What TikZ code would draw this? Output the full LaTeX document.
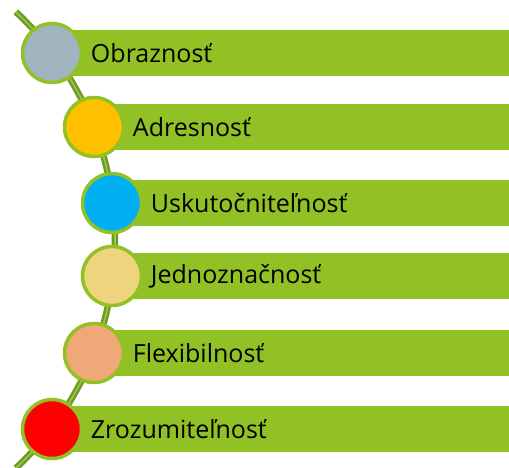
\documentclass[tikz,border=0pt]{standalone}
\usepackage{fontspec}
\setmainfont{Open Sans}
\usetikzlibrary{positioning}
\definecolor{barColor}{HTML}{92C125}
\definecolor{spineColor}{HTML}{6F9A2A}
\definecolor{spineLight}{HTML}{9DC53F}
\definecolor{greyFill}{HTML}{A0B4BE}
\definecolor{yellowFill}{HTML}{FFC000}
\definecolor{blueFill}{HTML}{00B0F0}
\definecolor{sandFill}{HTML}{EED47C}
\definecolor{salmonFill}{HTML}{F0A878}
\definecolor{redFill}{HTML}{FF0000}

\begin{document}
\begin{tikzpicture}[x=1pt,y=-1pt,
		dot/.style={circle, draw=barColor, line width=3.5pt, minimum size=59pt, inner sep=0},
		bar/.style={fill=barColor, anchor=west, minimum height=46pt, inner sep=0, outer sep=0},
		word/.style={font=\fontsize{25}{30}\selectfont, inner sep=0, anchor=west}]
	\useasboundingbox (0,0) rectangle (509,467);
	
	% the curved spine behind the dots
	\coordinate (hub) at (-197,240);
	\draw[spineColor, line width=6.5pt] (hub) ++(-47:312) arc[start angle=-47, end angle=47, radius=312];
	\draw[spineLight, line width=1.6pt] (hub) ++(-47:312) arc[start angle=-47, end angle=47, radius=312];
	
	% bars
	\node[bar, minimum width=457pt] (b1) at (52,53) {};
	\node[bar, minimum width=415pt] (b2) at (94,127) {};
	\node[bar, minimum width=397pt] (b3) at (112,203) {};
	\node[bar, minimum width=397pt] (b4) at (112,276) {};
	\node[bar, minimum width=415pt] (b5) at (94,353) {};
	\node[bar, minimum width=457pt] (b6) at (52,429) {};
	
	% dots
	\node[dot, fill=greyFill] (d1) at (b1.west) {};
	\node[dot, fill=yellowFill] (d2) at (b2.west) {};
	\node[dot, fill=blueFill] (d3) at (b3.west) {};
	\node[dot, fill=sandFill] (d4) at (b4.west) {};
	\node[dot, fill=salmonFill] (d5) at (b5.west) {};
	\node[dot, fill=redFill] (d6) at (b6.west) {};
	
	% labels
	\node[word, right=7.5pt of d1] (w1) {Obraznosť};
	\node[word, right=7.5pt of d2] (w2) {Adresnosť};
	\node[word, right=7.5pt of d3] (w3) {Uskutočniteľnosť};
	\node[word, right=7.5pt of d4] (w4) {Jednoznačnosť};
	\node[word, right=7.5pt of d5] (w5) {Flexibilnosť};
	\node[word, right=7.5pt of d6] (w6) {Zrozumiteľnosť};
\end{tikzpicture}
\end{document}
